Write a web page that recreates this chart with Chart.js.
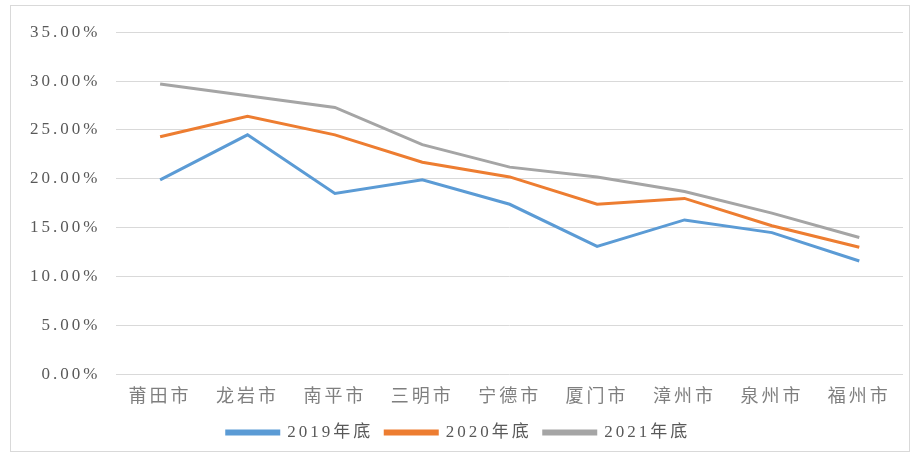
<!DOCTYPE html>
<html lang="zh-CN">
<head>
    <meta charset="UTF-8">
    <script src="https://cdn.jsdelivr.net/npm/chart.js"></script>
    <title>各市比例</title>
    <style>
        body { margin: 0; background: #fff; }
        .caixa {
            position: absolute; left: 10px; top: 5px;
            width: 898px; height: 445px;
            border: 1px solid #d9d9d9;
        }
    </style>
</head>
<body>
    <div class="caixa">
        <canvas id="grafico" width="898" height="445"></canvas>
    </div>
<script>
    // dados (%)
    const cidades = ['莆田市', '龙岩市', '南平市', '三明市', '宁德市', '厦门市', '漳州市', '泉州市', '福州市'];
    const ano2019 = [19.9, 24.5, 18.5, 19.9, 17.4, 13.1, 15.8, 14.5, 11.6];
    const ano2020 = [24.3, 26.4, 24.5, 21.7, 20.2, 17.4, 18.0, 15.2, 13.0];
    const ano2021 = [29.7, 28.5, 27.3, 23.5, 21.2, 20.2, 18.7, 16.5, 14.0];
    const nomesSeries = ['2019年底', '2020年底', '2021年底'];

    const fonte = "'Liberation Serif', 'Noto Sans CJK SC', serif";

    // espaçamento entre letras (o texto original é bem espaçado)
    const espacamento = {
        id: 'espacamento',
        beforeLayout(chart) { chart.ctx.letterSpacing = '3px'; },
        beforeDraw(chart) { chart.ctx.letterSpacing = '3px'; }
    };

    function serie(nome, valores, cor) {
        return {
            label: nome,
            data: valores,
            borderColor: cor,
            backgroundColor: cor,
            borderWidth: 3,
            pointRadius: 0,
            tension: 0
        };
    }

    const config = {
        type: 'line',
        data: {
            labels: cidades,
            datasets: [
                serie(nomesSeries[0], ano2019, '#5b9bd5'),
                serie(nomesSeries[1], ano2020, '#ed7d31'),
                serie(nomesSeries[2], ano2021, '#a5a5a5')
            ]
        },
        options: {
            responsive: false,
            animation: false,
            layout: { padding: { left: 3, right: 6, top: 5, bottom: 0 } },
            plugins: {
                tooltip: { enabled: false },
                legend: {
                    position: 'bottom',
                    labels: {
                        boxWidth: 52,
                        boxHeight: 3,
                        padding: 12,
                        color: '#595959',
                        font: { family: fonte, size: 17 }
                    }
                }
            },
            scales: {
                x: {
                    offset: true,
                    grid: { display: false },
                    border: { display: false },
                    ticks: { color: '#7f7f7f', padding: 4, font: { family: fonte, size: 18 } }
                },
                y: {
                    min: 0,
                    max: 35,
                    grid: { color: '#d9d9d9', lineWidth: 1, drawTicks: false },
                    border: { display: false },
                    ticks: {
                        stepSize: 5,
                        padding: 16,
                        color: '#595959',
                        font: { family: fonte, size: 17 },
                        callback: v => v.toFixed(2) + '%'
                    }
                }
            }
        },
        plugins: [espacamento]
    };

    new Chart(document.getElementById('grafico'), config);
</script>
</body>
</html>
